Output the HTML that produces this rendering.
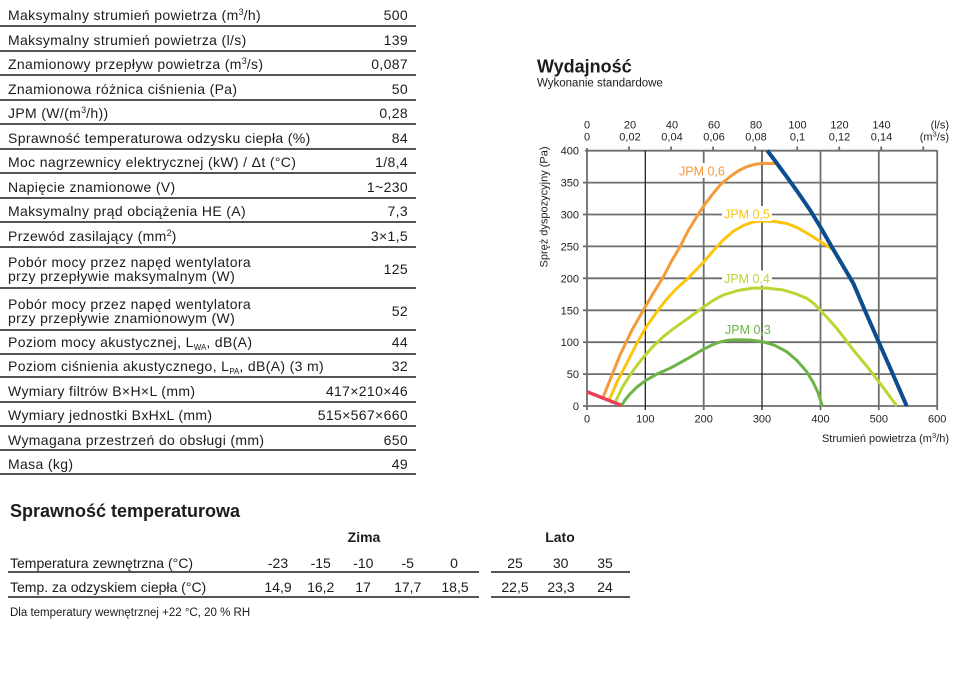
<!DOCTYPE html>
<html>
<head>
<meta charset="utf-8">
<style>
  html,body{margin:0;padding:0;background:#fff;}
  body{width:964px;height:680px;position:relative;overflow:hidden;font-family:"Liberation Sans",Arial,sans-serif;color:#1c1c1c;}
  .t{position:absolute;left:8px;font-size:14px;line-height:16px;letter-spacing:0.35px;white-space:nowrap;}
  .v{position:absolute;left:250px;width:158px;text-align:right;font-size:14px;line-height:16px;letter-spacing:0.35px;white-space:nowrap;}
  .ln{position:absolute;left:0;width:416px;height:2px;background:#555;}
  .sup{font-size:9px;position:relative;top:-5px;line-height:0;letter-spacing:0;}
  .sub{font-size:8px;position:relative;top:3px;line-height:0;letter-spacing:0;}
  .b{position:absolute;font-size:14px;line-height:16px;white-space:nowrap;}
  .c{position:absolute;font-size:14px;line-height:16px;width:60px;text-align:center;white-space:nowrap;}
  .bl{position:absolute;height:2px;background:#555;}
</style>
</head>
<body>

<div class="t" style="top:7px">Maksymalny strumień powietrza (m<span class="sup">3</span>/h)</div><div class="v" style="top:7px">500</div><div class="ln" style="top:25px"></div>
<div class="t" style="top:31.5px">Maksymalny strumień powietrza (l/s)</div><div class="v" style="top:31.5px">139</div><div class="ln" style="top:50px"></div>
<div class="t" style="top:56px">Znamionowy przepływ powietrza (m<span class="sup">3</span>/s)</div><div class="v" style="top:56px">0,087</div><div class="ln" style="top:74px"></div>
<div class="t" style="top:80.5px">Znamionowa różnica ciśnienia (Pa)</div><div class="v" style="top:80.5px">50</div><div class="ln" style="top:99px"></div>
<div class="t" style="top:105px">JPM (W/(m<span class="sup">3</span>/h))</div><div class="v" style="top:105px">0,28</div><div class="ln" style="top:123px"></div>
<div class="t" style="top:129.5px">Sprawność temperaturowa odzysku ciepła (%)</div><div class="v" style="top:129.5px">84</div><div class="ln" style="top:148px"></div>
<div class="t" style="top:154px">Moc nagrzewnicy elektrycznej (kW) / Δt (°C)</div><div class="v" style="top:154px">1/8,4</div><div class="ln" style="top:172px"></div>
<div class="t" style="top:178.5px">Napięcie znamionowe (V)</div><div class="v" style="top:178.5px">1~230</div><div class="ln" style="top:197px"></div>
<div class="t" style="top:203px">Maksymalny prąd obciążenia HE (A)</div><div class="v" style="top:203px">7,3</div><div class="ln" style="top:221px"></div>
<div class="t" style="top:227.5px">Przewód zasilający (mm<span class="sup">2</span>)</div><div class="v" style="top:227.5px">3×1,5</div><div class="ln" style="top:246px"></div>
<div class="t" style="top:253.5px">Pobór mocy przez napęd wentylatora</div>
<div class="t" style="top:267.5px">przy przepływie maksymalnym (W)</div><div class="v" style="top:260.5px">125</div><div class="ln" style="top:287px"></div>
<div class="t" style="top:295.5px">Pobór mocy przez napęd wentylatora</div>
<div class="t" style="top:309.5px">przy przepływie znamionowym (W)</div><div class="v" style="top:303px">52</div><div class="ln" style="top:329px"></div>
<div class="t" style="top:334px">Poziom mocy akustycznej, L<span class="sub">WA</span>, dB(A)</div><div class="v" style="top:334px">44</div><div class="ln" style="top:353px"></div>
<div class="t" style="top:358px">Poziom ciśnienia akustycznego, L<span class="sub">PA</span>, dB(A) (3 m)</div><div class="v" style="top:358px">32</div><div class="ln" style="top:376px"></div>
<div class="t" style="top:382.5px">Wymiary filtrów B×H×L (mm)</div><div class="v" style="top:382.5px">417×210×46</div><div class="ln" style="top:401px"></div>
<div class="t" style="top:407px">Wymiary jednostki BxHxL (mm)</div><div class="v" style="top:407px">515×567×660</div><div class="ln" style="top:425px"></div>
<div class="t" style="top:431.5px">Wymagana przestrzeń do obsługi (mm)</div><div class="v" style="top:431.5px">650</div><div class="ln" style="top:449px"></div>
<div class="t" style="top:455.5px">Masa (kg)</div><div class="v" style="top:455.5px">49</div><div class="ln" style="top:473px"></div>

<div style="position:absolute;left:10px;top:500px;font-size:18px;line-height:22px;font-weight:bold;white-space:nowrap;">Sprawność temperaturowa</div>
<div class="c" style="left:334px;top:529px;font-weight:bold;">Zima</div>
<div class="c" style="left:530px;top:529px;font-weight:bold;">Lato</div>

<div class="b" style="left:10px;top:555px;">Temperatura zewnętrzna (°C)</div>
<div class="c" style="left:248px;top:555px;">-23</div>
<div class="c" style="left:290.7px;top:555px;">-15</div>
<div class="c" style="left:333.3px;top:555px;">-10</div>
<div class="c" style="left:377.7px;top:555px;">-5</div>
<div class="c" style="left:424px;top:555px;">0</div>
<div class="c" style="left:485px;top:555px;">25</div>
<div class="c" style="left:530.7px;top:555px;">30</div>
<div class="c" style="left:575px;top:555px;">35</div>
<div class="bl" style="left:8px;width:471px;top:571px;"></div>
<div class="bl" style="left:491px;width:139px;top:571px;"></div>

<div class="b" style="left:10px;top:579px;">Temp. za odzyskiem ciepła (°C)</div>
<div class="c" style="left:248px;top:579px;">14,9</div>
<div class="c" style="left:290.7px;top:579px;">16,2</div>
<div class="c" style="left:333px;top:579px;">17</div>
<div class="c" style="left:377.7px;top:579px;">17,7</div>
<div class="c" style="left:425px;top:579px;">18,5</div>
<div class="c" style="left:485px;top:579px;">22,5</div>
<div class="c" style="left:531px;top:579px;">23,3</div>
<div class="c" style="left:575px;top:579px;">24</div>
<div class="bl" style="left:8px;width:471px;top:596px;"></div>
<div class="bl" style="left:491px;width:139px;top:596px;"></div>

<div style="position:absolute;left:10px;top:606px;font-size:11.5px;line-height:14px;white-space:nowrap;">Dla temperatury wewnętrznej +22 °C, 20 % RH</div>

<svg width="964" height="680" viewBox="0 0 964 680" style="position:absolute;left:0;top:0;" xmlns="http://www.w3.org/2000/svg" font-family="Liberation Sans, Arial, sans-serif">
  <text x="537" y="72.5" font-size="18" font-weight="bold" fill="#1c1c1c">Wydajność</text>
  <text x="537" y="86.5" font-size="11.5" fill="#1c1c1c">Wykonanie standardowe</text>

  <g stroke="#6e6e6e" stroke-width="1.8" fill="none">
    <line x1="587" y1="374.1" x2="937.2" y2="374.1"/>
    <line x1="587" y1="342.2" x2="937.2" y2="342.2"/>
    <line x1="587" y1="310.3" x2="937.2" y2="310.3"/>
    <line x1="587" y1="278.3" x2="937.2" y2="278.3"/>
    <line x1="587" y1="246.4" x2="937.2" y2="246.4"/>
    <line x1="587" y1="214.5" x2="937.2" y2="214.5"/>
    <line x1="587" y1="182.6" x2="937.2" y2="182.6"/>
    <line x1="585" y1="150.7" x2="937.2" y2="150.7"/>
    <line x1="703.7" y1="150.7" x2="703.7" y2="410"/>
    <line x1="820.5" y1="150.7" x2="820.5" y2="410"/>
    <line x1="878.8" y1="150.7" x2="878.8" y2="410"/>
    <line x1="937.2" y1="150" x2="937.2" y2="410"/>
    <line x1="587" y1="148" x2="587" y2="410"/>
    <line x1="583" y1="406" x2="937.2" y2="406"/>
    <line x1="583" y1="374.1" x2="587" y2="374.1"/>
    <line x1="583" y1="342.2" x2="587" y2="342.2"/>
    <line x1="583" y1="310.3" x2="587" y2="310.3"/>
    <line x1="583" y1="278.3" x2="587" y2="278.3"/>
    <line x1="583" y1="246.4" x2="587" y2="246.4"/>
    <line x1="583" y1="214.5" x2="587" y2="214.5"/>
    <line x1="583" y1="182.6" x2="587" y2="182.6"/>
    <line x1="629" y1="146.5" x2="629" y2="150.7"/>
    <line x1="671.1" y1="146.5" x2="671.1" y2="150.7"/>
    <line x1="713.1" y1="146.5" x2="713.1" y2="150.7"/>
    <line x1="755.1" y1="146.5" x2="755.1" y2="150.7"/>
    <line x1="797.2" y1="146.5" x2="797.2" y2="150.7"/>
    <line x1="839.2" y1="146.5" x2="839.2" y2="150.7"/>
    <line x1="881.2" y1="146.5" x2="881.2" y2="150.7"/>
    <line x1="923.2" y1="146.5" x2="923.2" y2="150.7"/>
  </g>
  <g stroke="#111" stroke-width="1.2">
    <line x1="645.3" y1="150.7" x2="645.3" y2="410"/>
    <line x1="762" y1="150.7" x2="762" y2="410"/>
  </g>

  <g font-size="11" fill="#222" text-anchor="end">
    <text x="579" y="410">0</text>
    <text x="579" y="378.1">50</text>
    <text x="579" y="346.2">100</text>
    <text x="579" y="314.3">150</text>
    <text x="579" y="282.3">200</text>
    <text x="579" y="250.4">250</text>
    <text x="579" y="218.5">300</text>
    <text x="579" y="186.6">350</text>
    <text x="579" y="154.7">400</text>
  </g>
  <g font-size="11" fill="#222" text-anchor="middle">
    <text x="587" y="422.5">0</text>
    <text x="645.3" y="422.5">100</text>
    <text x="703.7" y="422.5">200</text>
    <text x="762" y="422.5">300</text>
    <text x="820.5" y="422.5">400</text>
    <text x="878.8" y="422.5">500</text>
    <text x="937.2" y="422.5">600</text>

    <text x="587" y="128.3">0</text>
    <text x="630" y="128.3">20</text>
    <text x="672" y="128.3">40</text>
    <text x="714" y="128.3">60</text>
    <text x="756" y="128.3">80</text>
    <text x="797.5" y="128.3">100</text>
    <text x="839.5" y="128.3">120</text>
    <text x="881.5" y="128.3">140</text>

    <text x="587" y="140.3">0</text>
    <text x="630" y="140.3">0,02</text>
    <text x="672" y="140.3">0,04</text>
    <text x="714" y="140.3">0,06</text>
    <text x="756" y="140.3">0,08</text>
    <text x="797.5" y="140.3">0,1</text>
    <text x="839.5" y="140.3">0,12</text>
    <text x="881.5" y="140.3">0,14</text>
  </g>
  <g font-size="11" fill="#222" text-anchor="end">
    <text x="949" y="128.3">(l/s)</text>
    <text x="949" y="140.3">(m<tspan font-size="7.5" dy="-4">3</tspan><tspan dy="4">/s)</tspan></text>
    <text x="949" y="442">Strumień powietrza (m<tspan font-size="7.5" dy="-4">3</tspan><tspan dy="4">/h)</tspan></text>
  </g>
  <text transform="translate(547.5,207) rotate(-90)" font-size="11" fill="#222" text-anchor="middle">Spręż dyspozycyjny (Pa)</text>

  <g fill="none" stroke-width="3" stroke-linejoin="round" stroke-linecap="butt">
    <polyline stroke="#6cb446" points="621.7,405.5 625,400 630,394 637,387 645.3,380.7 657,374 670,368.3 686,359.5 703.3,349.3 712,345 720,342 728,340.3 736.7,339.7 750,340 762.7,341.7 775,345.5 786.7,351.7 797,360.5 806.7,371.7 813,382 818.3,393.3 822.3,406"/>
    <polyline stroke="#bdd532" points="615,402.7 622,388 630,375 638,364 645.3,355 654,345.5 663.3,336.7 673,329 683.3,321.7 694,314 704,306.7 713,300.5 723.3,295 738,290.5 753.3,288 768,288.3 783.3,290 795,293.5 806.7,298.3 814,303.5 820,310 828,318.5 836.7,328.3 845,339 853.3,350 867,366.5 880,383.3 888,394 896.7,406"/>
    <polyline stroke="#fcc50d" points="609,400.3 617,382 626.7,363.3 636,345 645.3,328.3 656,313 666,300 676,289 686.7,279.5 695,271 703.3,262.5 713,251 723.3,240 733,231.5 743.3,225.5 753,222 763,221 775,221.5 786.7,223.5 798,228 810,235 821,242 832,249"/>
    <polyline stroke="#f39a3a" points="603,397.5 612,375 620,355 632,330 645.3,306.7 654,292 663.3,277 671,262 680,246.7 688,231 696.7,216.7 705,204 713.3,193.3 721,184 730,176.7 738,171 746.7,166.7 755,164.3 763,163.5 776,163.5"/>
    <polyline stroke="#0b4d8e" stroke-width="4" points="767.3,150.5 777,163.5 786.7,176.7 798,192.5 810,210 821,228 831.7,246.7 842.5,265 853.3,283.3 866,313 879.3,343.3 893,374.5 906.7,406"/>
    <line x1="587" y1="391.7" x2="621.7" y2="405.5" stroke="#e8405a" stroke-width="3.5"/>
  </g>

  <g font-size="12.5">
    <rect x="677" y="163" width="50" height="15" fill="#fff"/>
    <text x="679" y="175.5" fill="#f39a3a">JPM 0,6</text>
    <rect x="722" y="206" width="50" height="15" fill="#fff"/>
    <text x="724" y="218.5" fill="#fcc50d">JPM 0,5</text>
    <rect x="722" y="270.5" width="50" height="15" fill="#fff"/>
    <text x="724" y="282.8" fill="#bdd532">JPM 0,4</text>
    <text x="725" y="333.8" fill="#6cb446">JPM 0,3</text>
  </g>
</svg>

</body>
</html>
